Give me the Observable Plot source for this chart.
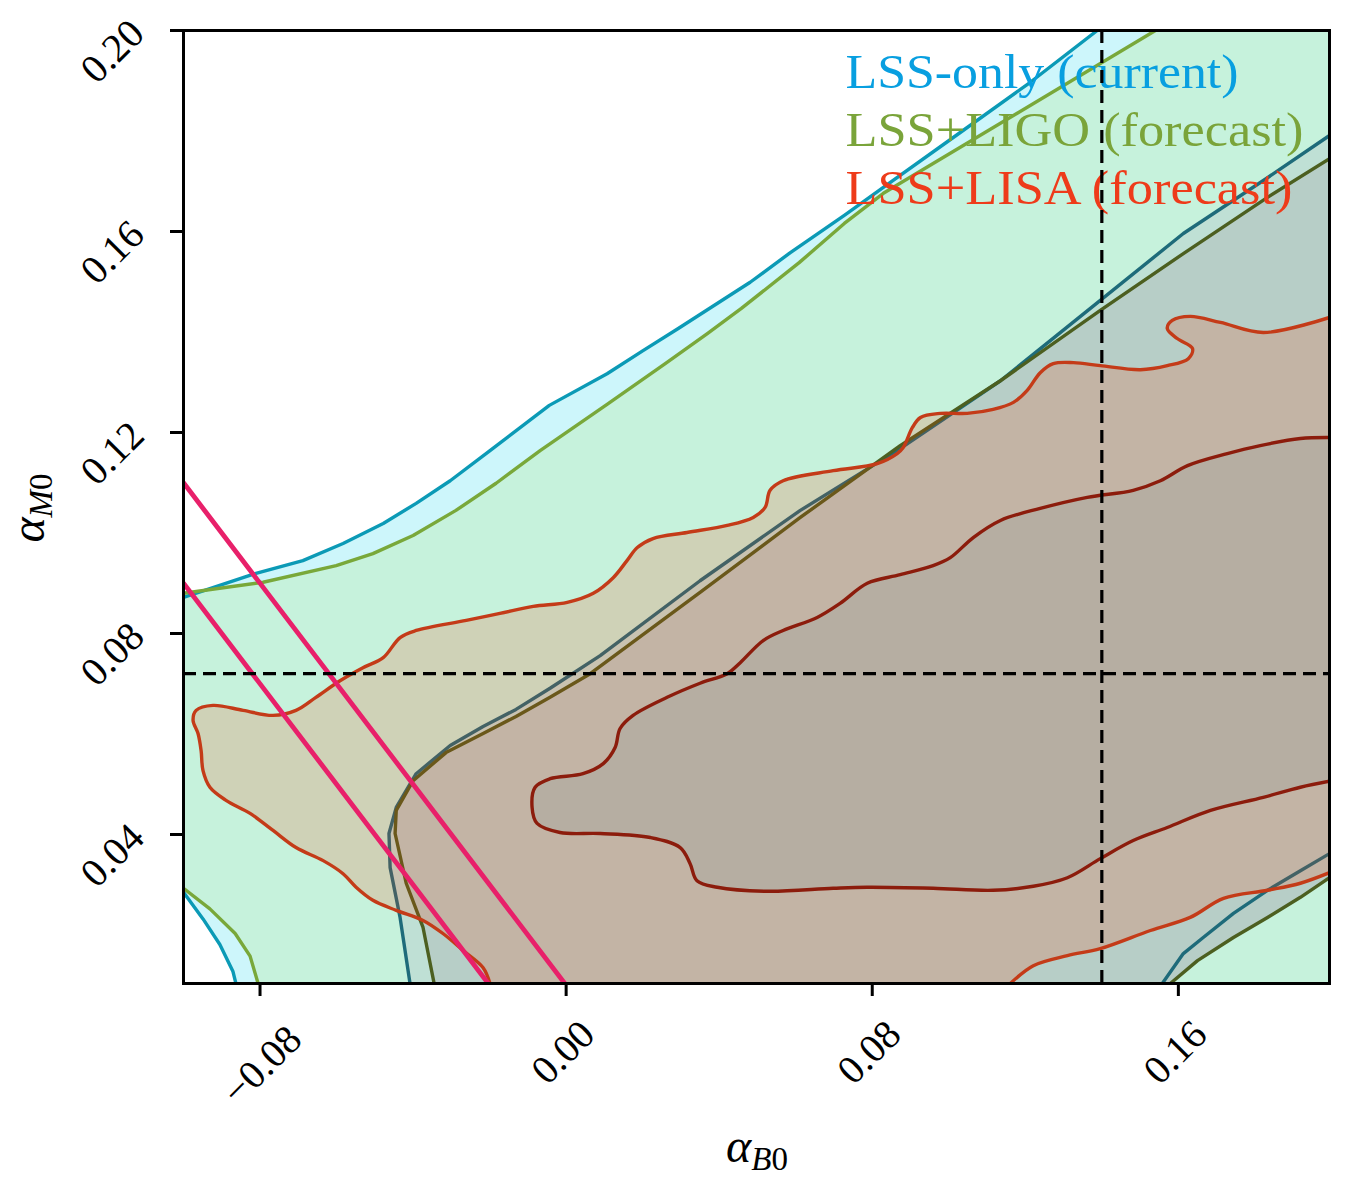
<!DOCTYPE html>
<html><head><meta charset="utf-8">
<script src="https://cdn.jsdelivr.net/npm/d3@7"></script>
<script src="https://cdn.jsdelivr.net/npm/@observablehq/plot@0.6"></script>
<style>body{margin:0;background:#fff}</style>
</head><body><div id="chart"></div>
<script>
const xDomain = [-0.1, 0.1995];
const yDomain = [0.01035, 0.2];
const xTicks = [-0.08, 0, 0.08, 0.16];
const xTickLabels = ["\u22120.08", "0.00", "0.08", "0.16"];
const yTicks = [0.04, 0.08, 0.12, 0.16, 0.20];
const yTickLabels = ["0.04", "0.08", "0.12", "0.16", "0.20"];
const legendLabels = ["LSS-only (current)", "LSS+LIGO (forecast)", "LSS+LISA (forecast)"];
const xLabel = ["\u03b1", "B", "0"];
const yLabel = ["\u03b1", "M", "0"];

// Reference lines
const alphaB0Ref = [0.14];
const alphaMRef = [0.072];
const pinkLineA = [[-0.1, 0.110], [0.0, 0.010]];
const pinkLineB = [[-0.1, 0.090], [-0.02, 0.010]];

// LSS-only (current)
const lssOuterUpper = [[-0.1,0.0872],[-0.0813,0.0919],[-0.0688,0.0945],[-0.0583,0.0979],[-0.0478,0.1019],[-0.0392,0.1059],[-0.0303,0.1104],[-0.0199,0.1164],[-0.0044,0.1254],[0.0107,0.1317],[0.0201,0.1363],[0.0293,0.1407],[0.0481,0.1499],[0.0586,0.1558],[0.0727,0.1632],[0.0829,0.1688],[0.1030,0.1797],[0.1213,0.1897],[0.1388,0.2000]];
const lssOuterLower = [[-0.1,0.0285],[-0.0949,0.0232],[-0.0905,0.0181],[-0.0871,0.0128],[-0.0863,0.01035]];
const lssInnerUpper = [[-0.0408,0.01035],[-0.0434,0.0235],[-0.0460,0.0334],[-0.0463,0.0402],[-0.0444,0.0454],[-0.0392,0.0521],[-0.0303,0.0577],[-0.0217,0.0615],[-0.0131,0.0649],[-0.0042,0.0691],[0.0089,0.0756],[0.0350,0.0905],[0.0612,0.1045],[0.0873,0.1168],[0.1135,0.1303],[0.1396,0.1463],[0.1613,0.1596],[0.1833,0.1707],[0.1995,0.1791]];
const lssInnerLower = [[0.1558,0.01035],[0.1613,0.0163],[0.1665,0.0195],[0.1744,0.0243],[0.1833,0.0289],[0.1919,0.0328],[0.1995,0.0362]];

// LSS+LIGO (forecast)
const ligoOuterUpper = [[-0.1,0.0880],[-0.0792,0.0902],[-0.0601,0.0935],[-0.0505,0.0959],[-0.0400,0.0995],[-0.0288,0.1045],[-0.0183,0.1099],[-0.0068,0.1164],[0.0107,0.1256],[0.0259,0.1337],[0.0369,0.1397],[0.0458,0.1447],[0.0609,0.1538],[0.0727,0.1616],[0.0829,0.1676],[0.1540,0.2000]];
const ligoOuterLower = [[-0.1,0.0293],[-0.0931,0.0252],[-0.0865,0.0203],[-0.0826,0.0158],[-0.0805,0.01035]];
const ligoInnerUpper = [[-0.0345,0.01035],[-0.0374,0.0215],[-0.0418,0.0303],[-0.0447,0.0402],[-0.0444,0.0448],[-0.0400,0.0507],[-0.0314,0.0563],[-0.0217,0.0601],[-0.0131,0.0635],[-0.0042,0.0673],[0.0063,0.0720],[0.0350,0.0882],[0.0612,0.1031],[0.0873,0.1174],[0.1135,0.1303],[0.1396,0.1443],[0.1613,0.1556],[0.1833,0.1668],[0.1995,0.1745]];
const ligoInnerLower = [[0.1579,0.01035],[0.1650,0.0149],[0.1744,0.0195],[0.1833,0.0235],[0.1919,0.0275],[0.1995,0.0314]];

// LSS+LISA (forecast)
const lisaOuterLowerRight = [[0.1161,0.01035],[0.1221,0.0139],[0.1310,0.0159],[0.1396,0.0173],[0.1527,0.0209],[0.1631,0.0235],[0.1718,0.0273],[0.1833,0.0289],[0.1919,0.0303],[0.1995,0.0324]];
const lisaOuterMain = [[0.1995,0.1429],[0.1822,0.1399],[0.1710,0.1419],[0.1631,0.1431],[0.1584,0.1423],[0.1571,0.1407],[0.1597,0.1387],[0.1637,0.1367],[0.1626,0.1347],[0.1571,0.1333],[0.1501,0.1325],[0.1396,0.1333],[0.1326,0.1339],[0.1273,0.1337],[0.1239,0.1319],[0.1205,0.1284],[0.1169,0.1260],[0.1116,0.1246],[0.1048,0.1238],[0.0978,0.1238],[0.0926,0.1230],[0.0905,0.1210],[0.0881,0.1170],[0.0865,0.1158],[0.0813,0.1138],[0.0698,0.1124],[0.0567,0.1104],[0.0533,0.1085],[0.0520,0.1051],[0.0489,0.1031],[0.0421,0.1015],[0.0316,0.1001],[0.0227,0.0989],[0.0186,0.0971],[0.0159,0.0945],[0.0123,0.0911],[0.0071,0.0880],[0.0003,0.0862],[-0.0086,0.0854],[-0.0173,0.0840],[-0.0261,0.0826],[-0.0392,0.0806],[-0.0434,0.0792],[-0.0478,0.0752],[-0.0531,0.0732],[-0.0591,0.0706],[-0.0654,0.0673],[-0.0706,0.0647],[-0.0766,0.0637],[-0.0844,0.0647],[-0.0923,0.0657],[-0.0967,0.0647],[-0.0975,0.0627],[-0.0962,0.0601],[-0.0954,0.0567],[-0.0949,0.0527],[-0.0931,0.0494],[-0.0889,0.0468],[-0.0826,0.0442],[-0.0766,0.0408],[-0.0706,0.0374],[-0.0635,0.0348],[-0.0583,0.0322],[-0.0549,0.0295],[-0.0505,0.0269],[-0.0444,0.0249],[-0.0374,0.0229],[-0.0322,0.0203],[-0.0269,0.0169],[-0.0217,0.0135],[-0.0199,0.01035]];
const lisaInner = [[0.1995,0.1190],[0.1919,0.1188],[0.1814,0.1174],[0.1728,0.1158],[0.1624,0.1134],[0.1553,0.1104],[0.1482,0.1085],[0.1362,0.1071],[0.1239,0.1049],[0.1135,0.1025],[0.1064,0.0991],[0.1004,0.0951],[0.0959,0.0935],[0.0873,0.0917],[0.0787,0.0900],[0.0716,0.0860],[0.0656,0.0832],[0.0567,0.0806],[0.0515,0.0786],[0.0455,0.0742],[0.0421,0.0720],[0.0350,0.0701],[0.0264,0.0673],[0.0175,0.0637],[0.0141,0.0611],[0.0128,0.0573],[0.0097,0.0541],[0.0044,0.0521],[-0.0042,0.0511],[-0.0081,0.0494],[-0.0089,0.0454],[-0.0076,0.0422],[-0.0016,0.0404],[0.0089,0.0402],[0.0220,0.0394],[0.0298,0.0374],[0.0324,0.0342],[0.0342,0.0308],[0.0395,0.0295],[0.0526,0.0287],[0.0698,0.0293],[0.0787,0.0295],[0.0959,0.0293],[0.1116,0.0289],[0.1221,0.0297],[0.1310,0.0314],[0.1396,0.0352],[0.1482,0.0388],[0.1571,0.0414],[0.1684,0.0448],[0.1822,0.0474],[0.1919,0.0494],[0.1995,0.0506]];

// Colours
const C = {
  lssFill: "#cdf6fb", ligoFill: "#c6f2dc", lssInnerFill: "#bfe0d5", ligoInnerFill: "#b7cec7",
  lssLine: "#0b9ab6", lssInnerLine: "#1e6b7a", ligoLine: "#79a83a", ligoInnerLine: "#4c5f20",
  lisaFill: "#ff3500", lisaInnerFill: "#b6aea2", lisaLine: "#c43b18", lisaInnerLine: "#8c1c0c",
  pink: "#e8206a", legend: ["#089fe0", "#7aa43a", "#ee3b1a"]
};

const corners = [[xDomain[1], yDomain[1]], [xDomain[1], yDomain[0]]];
const poly = (...parts) => parts.flat();
const rev = a => a.slice().reverse();
const px = d => d[0], py = d => d[1];
const F = "Liberation Serif";
// closing path segments that run just outside the right edge (hidden by the clip)
const outside = xDomain[1] + 0.006;
const outerJoin = [[outside, lisaOuterLowerRight[lisaOuterLowerRight.length - 1][1]], [outside, lisaOuterMain[0][1]]];
const innerJoin = [[outside, lisaInner[lisaInner.length - 1][1]], [outside, lisaInner[0][1]]];

const fill = (data, color, opts = {}) => Plot.line(data, {x: px, y: py, fill: color, stroke: "none", curve: "linear-closed", clip: true, ...opts});
const stroke = (data, color, w = 3.4, curve = "linear") => Plot.line(data, {x: px, y: py, stroke: color, strokeWidth: w, curve, clip: true, strokeLinejoin: "round"});

const xTickData = xTicks.map((v, i) => ({v, label: xTickLabels[i]}));
const yTickData = yTicks.map((v, i) => ({v, label: yTickLabels[i]}));

const svg = Plot.plot({
  width: 1345, height: 1191,
  marginLeft: 183, marginRight: 16, marginTop: 30, marginBottom: 208,
  x: {domain: xDomain, axis: null},
  y: {domain: yDomain, axis: null},
  style: {background: "white", fontFamily: F},
  marks: [
    fill(poly(lssOuterUpper, corners, rev(lssOuterLower)), C.lssFill),
    fill(poly(ligoOuterUpper, corners, rev(ligoOuterLower)), C.ligoFill),
    fill(poly(lssInnerUpper, rev(lssInnerLower)), C.lssInnerFill),
    fill(poly(ligoInnerUpper, rev(ligoInnerLower)), C.ligoInnerFill),
    stroke(lssOuterUpper, C.lssLine), stroke(lssOuterLower, C.lssLine),
    stroke(lssInnerUpper, C.lssInnerLine), stroke(lssInnerLower, C.lssInnerLine),
    stroke(ligoOuterUpper, C.ligoLine), stroke(ligoOuterLower, C.ligoLine),
    stroke(ligoInnerUpper, C.ligoInnerLine), stroke(ligoInnerLower, C.ligoInnerLine),
    Plot.line(poly(lisaOuterLowerRight, outerJoin, lisaOuterMain), {x: px, y: py, fill: C.lisaFill, fillOpacity: 0.17, stroke: "none", curve: "catmull-rom", clip: true}),
    Plot.line(poly(lisaInner, innerJoin), {x: px, y: py, fill: C.lisaInnerFill, stroke: "none", curve: "catmull-rom", clip: true}),
    stroke(lisaOuterLowerRight, C.lisaLine, 3.4, "catmull-rom"),
    stroke(lisaOuterMain, C.lisaLine, 3.4, "catmull-rom"),
    stroke(lisaInner, C.lisaInnerLine, 3.4, "catmull-rom"),
    stroke(pinkLineA, C.pink, 4.8), stroke(pinkLineB, C.pink, 4.8),
    Plot.text([legendLabels[0]], {text: d => d, frameAnchor: "top-left", dx: 662, dy: 57, textAnchor: "start", lineAnchor: "bottom", fill: C.legend[0], fontSize: 48, fontFamily: F}),
    Plot.text([legendLabels[1]], {text: d => d, frameAnchor: "top-left", dx: 662, dy: 115, textAnchor: "start", lineAnchor: "bottom", fill: C.legend[1], fontSize: 48, fontFamily: F}),
    Plot.text([legendLabels[2]], {text: d => d, frameAnchor: "top-left", dx: 662, dy: 173, textAnchor: "start", lineAnchor: "bottom", fill: C.legend[2], fontSize: 48, fontFamily: F}),
    Plot.ruleX(alphaB0Ref, {x: d => d, stroke: "black", strokeWidth: 3.2, strokeDasharray: "13,7"}),
    Plot.ruleY(alphaMRef, {y: d => d, stroke: "black", strokeWidth: 3.2, strokeDasharray: "13,7"}),
    Plot.frame({stroke: "black", strokeWidth: 3}),
    Plot.axisX(xTicks, {anchor: "bottom", tickSize: 13, strokeWidth: 3, stroke: "black", tickFormat: () => "", label: null}),
    Plot.axisY(yTicks, {anchor: "left", tickSize: 13, strokeWidth: 3, stroke: "black", tickFormat: () => "", label: null}),
    Plot.text(xTickData.filter(d => d.label.length === 4), {x: d => d.v, text: d => d.label, frameAnchor: "bottom", rotate: -45, textAnchor: "middle", lineAnchor: "middle", dx: -3, dy: 69, fontSize: 40, fontFamily: F, fill: "black"}),
    Plot.text(xTickData.filter(d => d.label.length !== 4), {x: d => d.v, text: d => d.label, frameAnchor: "bottom", rotate: -45, textAnchor: "middle", lineAnchor: "middle", dx: 2, dy: 82, fontSize: 40, fontFamily: F, fill: "black"}),
    Plot.text(yTickData, {y: d => d.v, text: d => d.label, frameAnchor: "left", rotate: -45, textAnchor: "middle", lineAnchor: "middle", dx: -71, dy: 21, fontSize: 40, fontFamily: F, fill: "black"})
  ]
});

const s = d3.select(svg);
// remove empty axis text
s.selectAll("text").filter(function() { return this.textContent === ""; }).remove();
// stretch legend text to the reference widths
const legendWidths = {"LSS-only (current)": 393, "LSS+LIGO (forecast)": 458, "LSS+LISA (forecast)": 447};
s.selectAll("text").each(function() {
  const w = legendWidths[this.textContent];
  if (w) { this.setAttribute("textLength", w); this.setAttribute("lengthAdjust", "spacingAndGlyphs"); }
});
// axis labels with subscripts
function mathLabel(parts, transform) {
  const t = s.append("text").attr("transform", transform).attr("text-anchor", "middle")
    .attr("font-family", F).attr("font-size", 48).attr("fill", "black");
  t.append("tspan").attr("font-style", "italic").text(parts[0]);
  t.append("tspan").attr("font-style", "italic").attr("font-size", 33).attr("dy", 8).text(parts[1]);
  t.append("tspan").attr("font-size", 33).text(parts[2]);
}
mathLabel(xLabel, "translate(757,1162)");
mathLabel(yLabel, "translate(44,508) rotate(-90)");

document.getElementById("chart").appendChild(svg);
</script>
</body></html>
